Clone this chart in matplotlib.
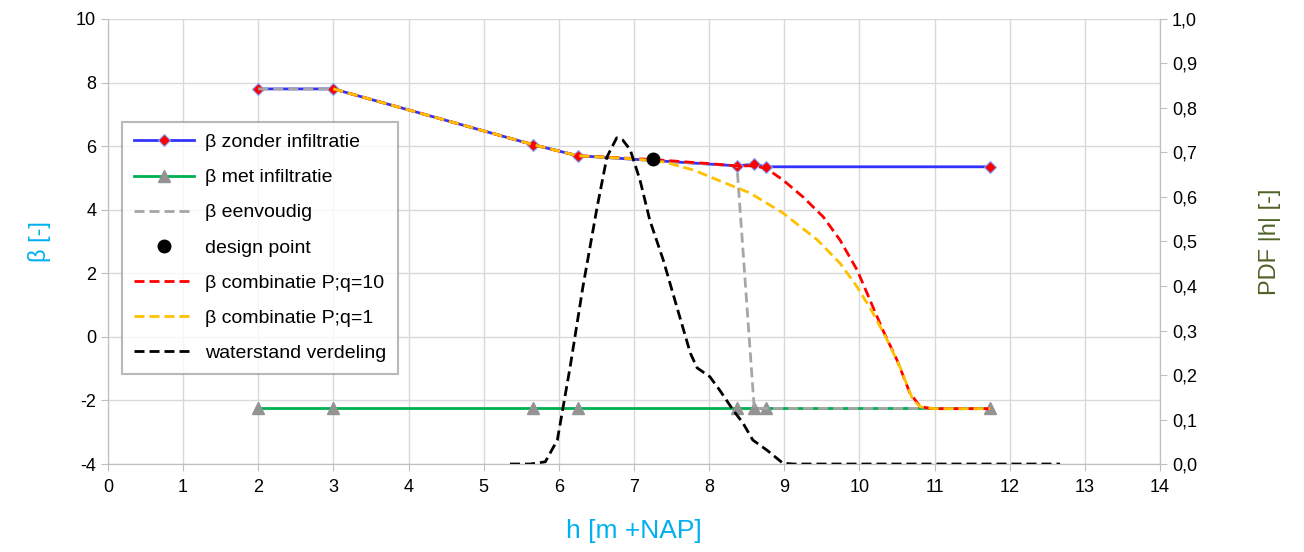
#!/usr/bin/env python3

import matplotlib
matplotlib.use("Agg")
import matplotlib.pyplot as pyplot
from matplotlib.ticker import FuncFormatter, MultipleLocator

pyplot.rcParams["font.family"] = ["Liberation Sans", "DejaVu Sans"]
pyplot.rcParams["axes.unicode_minus"] = False

# beta without infiltration
hZonder = [2.0, 3.0, 5.65, 6.25, 8.37, 8.6, 8.76, 11.74]
betaZonder = [7.8, 7.8, 6.05, 5.7, 5.38, 5.43, 5.35, 5.35]

# beta with infiltration
hMet = [2.0, 3.0, 5.65, 6.25, 8.37, 8.6, 8.76, 11.74]
betaMet = [-2.25, -2.25, -2.25, -2.25, -2.25, -2.25, -2.25, -2.25]

# beta simple
hEenv = [2.0, 3.0, 5.65, 6.25, 8.37, 8.6, 8.76, 11.74]
betaEenv = [7.8, 7.8, 6.05, 5.7, 5.38, -2.25, -2.25, -2.25]

# design point
hDesign = [7.25]
betaDesign = [5.6]

# combination q=10
hQ10 = [3.0, 5.65, 6.25, 7.25, 8.0, 8.37, 8.6, 8.76, 8.98, 9.25, 9.52, 9.74,
        9.97, 10.14, 10.31, 10.5, 10.67, 10.81, 10.98, 11.74]
betaQ10 = [7.8, 6.05, 5.7, 5.58, 5.45, 5.38, 5.38, 5.3, 4.94, 4.4, 3.77, 3.05,
           2.1, 1.16, 0.22, -0.73, -1.76, -2.2, -2.26, -2.26]

# combination q=1
hQ1 = [3.0, 5.65, 6.25, 7.0, 7.4, 7.79, 8.18, 8.54, 8.98, 9.44, 9.74, 9.97,
       10.18, 10.37, 10.54, 10.71, 10.81, 11.0, 11.74]
betaQ1 = [7.8, 6.05, 5.7, 5.6, 5.5, 5.25, 4.87, 4.53, 3.9, 3.05, 2.32, 1.57,
          0.75, -0.1, -0.95, -1.98, -2.2, -2.26, -2.26]

# water level distribution (right axis)
hPdf = [5.35, 5.62, 5.82, 5.98, 6.15, 6.32, 6.51, 6.64, 6.77, 6.85, 6.95, 7.08,
        7.21, 7.39, 7.57, 7.75, 7.84, 8.01, 8.14, 8.32, 8.45, 8.58, 8.77, 8.98,
        9.12, 12.67]
pdf = [0.0, 0.0, 0.005, 0.054, 0.218, 0.398, 0.578, 0.69, 0.733, 0.728, 0.706,
       0.638, 0.548, 0.458, 0.353, 0.249, 0.216, 0.196, 0.166, 0.121, 0.092,
       0.054, 0.031, 0.002, 0.0, 0.0]

BLUE_LABEL = "#00B0F0"
GREEN_LABEL = "#4F6228"
GRID = "#D9D9D9"
SPINE = "#BFBFBF"
LW = 2.0
DASH = (0, (3.6, 1.8))

figure = pyplot.figure(figsize=(13.04, 5.52), dpi=100)
ax = figure.add_axes([0.0828, 0.1594, 0.8068, 0.8062])
ax2 = ax.twinx()

ax.plot(hMet, betaMet, color="#00B050", lw=LW, marker="^", ms=9,
        mfc="#939393", mec="#939393", label="β met infiltratie", zorder=3)
ax.plot(hZonder, betaZonder, color="#3333FF", lw=LW, marker="D", ms=6.5,
        mfc="#FF0000", mec="#7FA7FF", mew=0.8, label="β zonder infiltratie", zorder=4)
ax.plot(hEenv, betaEenv, color="#A6A6A6", lw=LW, ls=DASH,
        label="β eenvoudig", zorder=5)
ax.plot(hDesign, betaDesign, "o", color="black", ms=9,
        label="design point", zorder=8)
ax.plot(hQ10, betaQ10, color="#FF0000", lw=LW, ls=DASH,
        label="β combinatie P;q=10", zorder=6)
ax.plot(hQ1, betaQ1, color="#FFC000", lw=LW, ls=DASH,
        label="β combinatie P;q=1", zorder=7)
ax2.plot(hPdf, pdf, color="black", lw=LW, ls=DASH, label="waterstand verdeling")

ax.set_xlim(0, 14)
ax.set_ylim(-4, 10)
ax2.set_ylim(0, 1)
ax.xaxis.set_major_locator(MultipleLocator(1))
ax.yaxis.set_major_locator(MultipleLocator(2))
ax2.yaxis.set_major_locator(MultipleLocator(0.1))
ax2.yaxis.set_major_formatter(FuncFormatter(lambda v, p: f"{v:.1f}".replace(".", ",")))

ax.grid(True, color=GRID, lw=1.0)
ax.set_axisbelow(True)
for a in (ax, ax2):
    a.spines["top"].set_visible(False)
    for side in ("left", "right", "bottom"):
        a.spines[side].set_color(SPINE)
    a.tick_params(labelsize=13, color=SPINE, length=5, labelcolor="#000000")
ax.tick_params(axis="x", pad=6)

ax.set_xlabel("h [m +NAP]", color=BLUE_LABEL, fontsize=19, labelpad=16)
ax.set_ylabel("β [-]", color=BLUE_LABEL, fontsize=17, labelpad=18)
ax2.set_ylabel("PDF |h| [-]", color=GREEN_LABEL, fontsize=17, labelpad=45)

handles, labels = ax.get_legend_handles_labels()
order = ["β zonder infiltratie", "β met infiltratie", "β eenvoudig",
         "design point", "β combinatie P;q=10", "β combinatie P;q=1"]
h2, l2 = ax2.get_legend_handles_labels()
hs = [handles[labels.index(n)] for n in order] + h2
ls = order + l2
legend = ax2.legend(hs, ls, loc="upper left", bbox_to_anchor=(0.0936, 0.779),
                    bbox_transform=figure.transFigure, fontsize=14,
                    frameon=True, fancybox=False, edgecolor="#A6A6A6",
                    handlelength=3.1, labelspacing=0.9, borderpad=0.6,
                    handletextpad=0.55, borderaxespad=0)
legend.get_frame().set_linewidth(1.5)

figure.savefig("out.png", dpi=100)
